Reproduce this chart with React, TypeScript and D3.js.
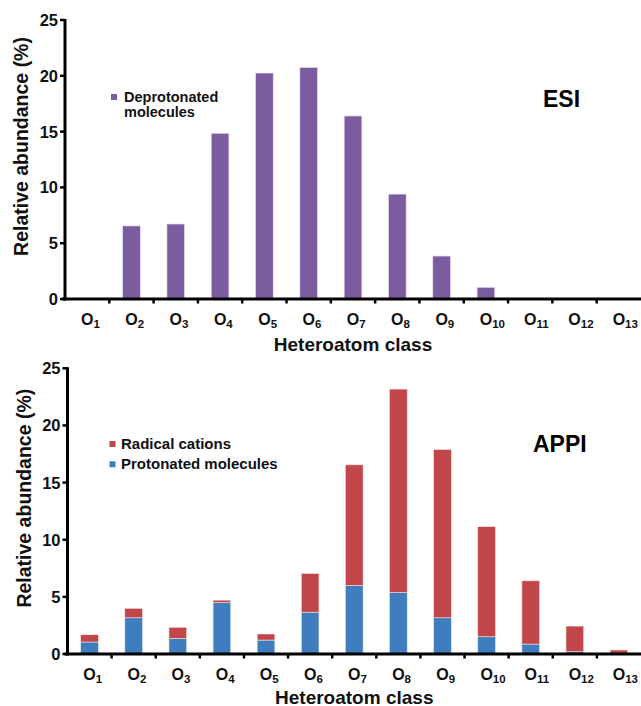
import React, { useEffect, useRef } from "react";
import * as d3 from "d3";

// oxygen class numbers O1..O13
const classes = ["1", "2", "3", "4", "5", "6", "7", "8", "9", "10", "11", "12", "13"];

// ESI, deprotonated molecules (%)
const esiDeprotonated = [0, 6.55, 6.72, 14.85, 20.25, 20.75, 16.4, 9.4, 3.85, 1.05, 0, 0, 0];

// APPI, stacked: protonated (bottom) + radical cations (top)
const appiProtonated = [1.05, 3.17, 1.37, 4.5, 1.22, 3.66, 6.0, 5.38, 3.17, 1.51, 0.87, 0.2, 0];
const appiRadical = [0.63, 0.82, 0.96, 0.21, 0.53, 3.38, 10.55, 17.8, 14.72, 9.63, 5.53, 2.24, 0.35];

const yTicks = [0, 5, 10, 15, 20, 25];

const FONT = "'Liberation Sans', Arial, Helvetica, sans-serif";
const PURPLE = "#7b5c9f";
const RED = "#c0464a";
const BLUE = "#3f7dbf";

type Panel = {
  left: number;
  top: number; // y of 25
  bottom: number; // y of 0
  right: number;
  titleOffset: number; // x-title baseline below the axis
};

const W = 641;
const H = 706;

function drawAxes(
  g: d3.Selection<SVGGElement, unknown, null, undefined>,
  p: Panel,
  x: d3.ScaleBand<string>,
  y: d3.ScaleLinear<number, number>
) {
  // y axis line + ticks
  g.append("line")
    .attr("x1", p.left)
    .attr("x2", p.left)
    .attr("y1", y(25) - 1)
    .attr("y2", y(0) + 1.5)
    .attr("stroke", "#000")
    .attr("stroke-width", 3);

  g.selectAll(".ytick")
    .data(yTicks)
    .enter()
    .append("line")
    .attr("x1", p.left - 5)
    .attr("x2", p.left)
    .attr("y1", (d) => y(d))
    .attr("y2", (d) => y(d))
    .attr("stroke", "#000")
    .attr("stroke-width", 2.5);

  g.selectAll(".ylab")
    .data(yTicks)
    .enter()
    .append("text")
    .attr("x", p.left - 7)
    .attr("y", (d) => y(d))
    .attr("dy", "0.36em")
    .attr("text-anchor", "end")
    .attr("font-family", FONT)
    .attr("font-weight", "bold")
    .attr("font-size", 16.5)
    .attr("fill", "#111")
    .text((d) => d);

  // x axis line
  g.append("line")
    .attr("x1", p.left - 3)
    .attr("x2", p.right)
    .attr("y1", y(0))
    .attr("y2", y(0))
    .attr("stroke", "#000")
    .attr("stroke-width", 3);

  // tick marks on category boundaries
  const step = x.step();
  g.selectAll(".xtick")
    .data(classes.slice(1))
    .enter()
    .append("line")
    .attr("x1", (d) => (x(d) as number) + x.bandwidth() / 2 - step / 2)
    .attr("x2", (d) => (x(d) as number) + x.bandwidth() / 2 - step / 2)
    .attr("y1", y(0))
    .attr("y2", y(0) + 4.5)
    .attr("stroke", "#000")
    .attr("stroke-width", 2.5);

  // O_n labels, the "O" centred on the category
  const labels = g
    .selectAll(".xlab")
    .data(classes)
    .enter()
    .append("text")
    .attr("x", (d) => (x(d) as number) + x.bandwidth() / 2 - 6.2)
    .attr("y", y(0) + 25.5)
    .attr("font-family", FONT)
    .attr("font-weight", "bold")
    .attr("fill", "#111");
  labels.append("tspan").attr("font-size", 16).text("O");
  labels
    .append("tspan")
    .attr("font-size", 11.5)
    .attr("dy", 3.8)
    .text((d) => d);

  // axis titles
  g.append("text")
    .attr("x", (p.left + p.right) / 2)
    .attr("y", y(0) + p.titleOffset)
    .attr("text-anchor", "middle")
    .attr("font-family", FONT)
    .attr("font-weight", "bold")
    .attr("font-size", 19)
    .attr("fill", "#111")
    .text("Heteroatom class");

  g.append("text")
    .attr("transform", `translate(${p.left - 37},${(y(0) + y(25)) / 2 - 13}) rotate(-90)`)
    .attr("text-anchor", "middle")
    .attr("font-family", FONT)
    .attr("font-weight", "bold")
    .attr("font-size", 19.5)
    .attr("fill", "#111")
    .text("Relative abundance (%)");
}

const App: React.FC = () => {
  const ref = useRef<SVGSVGElement>(null);

  useEffect(() => {
    if (!ref.current) return;
    const svg = d3.select(ref.current);
    svg.selectAll("*").remove();

    // ---------- ESI panel ----------
    const p1: Panel = { left: 65, top: 20, bottom: 299, right: W, titleOffset: 52 };
    const x1 = d3
      .scaleBand<string>()
      .domain(classes)
      .range([p1.left, p1.right])
      .paddingInner(0.6)
      .paddingOuter(0.3);
    const y1 = d3.scaleLinear().domain([0, 25]).range([p1.bottom, p1.top]);
    const g1 = svg.append("g");

    g1.selectAll(".bar")
      .data(esiDeprotonated.map((v, i) => ({ c: classes[i], v })))
      .enter()
      .filter((d) => d.v > 0)
      .append("rect")
      .attr("x", (d) => x1(d.c) as number)
      .attr("y", (d) => y1(d.v))
      .attr("width", x1.bandwidth())
      .attr("height", (d) => y1(0) - y1(d.v))
      .attr("fill", PURPLE)
      .attr("stroke", "#e9e2f0")
      .attr("stroke-width", 0.7);

    drawAxes(g1, p1, x1, y1);

    // legend
    g1.append("rect").attr("x", 111).attr("y", 94).attr("width", 6).attr("height", 6).attr("fill", PURPLE);
    const leg1 = g1
      .append("text")
      .attr("font-family", FONT)
      .attr("font-weight", "bold")
      .attr("font-size", 14.5)
      .attr("fill", "#111");
    leg1.append("tspan").attr("x", 124).attr("y", 101.7).text("Deprotonated");
    leg1.append("tspan").attr("x", 124).attr("y", 117.3).text("molecules");

    g1.append("text")
      .attr("x", 543)
      .attr("y", 107)
      .attr("font-family", FONT)
      .attr("font-weight", "bold")
      .attr("font-size", 23)
      .attr("fill", "#000")
      .text("ESI");

    // ---------- APPI panel ----------
    const p2: Panel = { left: 67.5, top: 368.3, bottom: 654, right: W, titleOffset: 49.5 };
    const x2 = d3
      .scaleBand<string>()
      .domain(classes)
      .range([p2.left, p2.right])
      .paddingInner(0.6)
      .paddingOuter(0.3);
    const y2 = d3.scaleLinear().domain([0, 25]).range([p2.bottom, p2.top]);
    const g2 = svg.append("g");

    const rows = classes.map((c, i) => ({
      c,
      protonated: appiProtonated[i],
      radical: appiRadical[i],
    }));
    const stacked = d3.stack<any>().keys(["protonated", "radical"])(rows);
    const colors: Record<string, string> = { protonated: BLUE, radical: RED };
    const strokes: Record<string, string> = { protonated: "#dbe6f3", radical: "#f2dcdc" };

    stacked.forEach((layer) => {
      g2.append("g")
        .selectAll("rect")
        .data(layer.filter((d) => d[1] - d[0] > 0))
        .enter()
        .append("rect")
        .attr("x", (d) => x2(d.data.c) as number)
        .attr("y", (d) => y2(d[1]))
        .attr("width", x2.bandwidth())
        .attr("height", (d) => y2(d[0]) - y2(d[1]))
        .attr("fill", colors[layer.key])
        .attr("stroke", strokes[layer.key])
        .attr("stroke-width", 0.6);
    });

    drawAxes(g2, p2, x2, y2);

    // legend
    const leg2 = [
      { label: "Radical cations", color: RED, y: 449 },
      { label: "Protonated molecules", color: BLUE, y: 469.3 },
    ];
    leg2.forEach((l) => {
      g2.append("rect").attr("x", 109.5).attr("y", l.y - 8).attr("width", 6).attr("height", 6).attr("fill", l.color);
      g2.append("text")
        .attr("x", 121)
        .attr("y", l.y)
        .attr("font-family", FONT)
        .attr("font-weight", "bold")
        .attr("font-size", 15)
        .attr("fill", "#111")
        .text(l.label);
    });

    g2.append("text")
      .attr("x", 533)
      .attr("y", 451.7)
      .attr("font-family", FONT)
      .attr("font-weight", "bold")
      .attr("font-size", 23)
      .attr("fill", "#000")
      .text("APPI");
  }, []);

  return (
    <svg
      ref={ref}
      width={W}
      height={H}
      style={{ position: "absolute", left: 0, top: 0, background: "#fff" }}
    />
  );
};

export default App;
